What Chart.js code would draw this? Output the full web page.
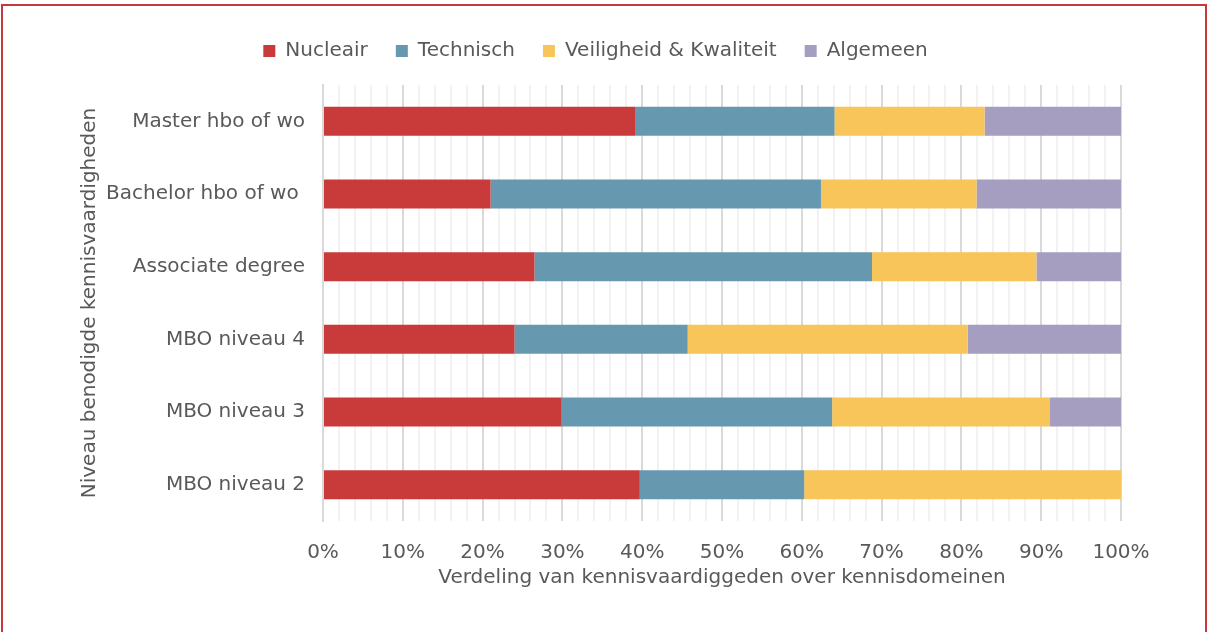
<!DOCTYPE html>
<html>
<head>
<meta charset="utf-8">
<script src="https://cdn.jsdelivr.net/npm/chart.js@4"></script>
<style>
  html, body { margin: 0; padding: 0; background: #fff; }
  #wrap { position: relative; width: 1212px; height: 632px; overflow: hidden; }
  #frame { position: absolute; left: 1px; top: 4px; width: 1206px; height: 640px; border: 2px solid #c8393b; box-sizing: border-box; }
  canvas { position: absolute; left: 0; top: 0; }
</style>
</head>
<body>
<div id="wrap">
  <div id="frame"></div>
  <canvas id="chart" width="1212" height="632"></canvas>
</div>
<script>
// niveaus (van boven naar beneden)
const niveaus = ["Master hbo of wo", "Bachelor hbo of wo ", "Associate degree", "MBO niveau 4", "MBO niveau 3", "MBO niveau 2"];

// aandeel per kennisdomein, in procenten
const nucleair    = [39.1, 21.0, 26.5, 24.0, 29.9, 39.7];
const technisch   = [25.0, 41.4, 42.3, 21.7, 33.9, 20.6];
const veiligheid  = [18.8, 19.5, 20.6, 35.1, 27.3, 39.7];
const algemeen    = [17.1, 18.1, 10.6, 19.2,  8.9,  0.0];

const xTicks = [0, 10, 20, 30, 40, 50, 60, 70, 80, 90, 100];

const font = "'DejaVu Sans', sans-serif";
const grey = "#595959";

Chart.defaults.font.family = font;
Chart.defaults.font.size = 20;
Chart.defaults.color = grey;

const isMajor = c => c.tick && c.tick.value % 10 === 0;

new Chart(document.getElementById("chart"), {
	type: 'bar',
	data: {
		labels: niveaus,
		datasets: [
			{ label: "Nucleair", data: nucleair, backgroundColor: "#c93b3b", xAxisID: 'x', yAxisID: 'y' },
			{ label: "Technisch", data: technisch, backgroundColor: "#6698b0", xAxisID: 'x', yAxisID: 'y' },
			{ label: "Veiligheid & Kwaliteit", data: veiligheid, backgroundColor: "#f7c55a", xAxisID: 'x', yAxisID: 'y' },
			{ label: "Algemeen", data: algemeen, backgroundColor: "#a59ec1", xAxisID: 'x', yAxisID: 'y' }
		]
	},
	options: {
		indexAxis: 'y',
		responsive: false,
		animation: false,
		barPercentage: 0.4,
		categoryPercentage: 1,
		layout: { padding: { left: 70, right: 91, top: 13, bottom: 42 } },
		plugins: {
			tooltip: { enabled: false },
			legend: {
				position: 'top',
				labels: {
					color: grey,
					boxWidth: 12,
					boxHeight: 12,
					padding: 28
				}
			}
		},
		scales: {
			x: {
				stacked: true,
				min: 0,
				max: 100,
				afterFit: s => { s.height = 69; },
				ticks: {
					stepSize: 2,
					autoSkip: false,
					maxRotation: 0,
					padding: 20,
					callback: v => xTicks.includes(v) ? v + '%' : ''
				},
				grid: {
					drawTicks: false,
					color: c => isMajor(c) ? '#d9d9d9' : '#f2f2f2',
					lineWidth: 2
				},
				border: { display: false },
				title: {
					display: true,
					text: "Verdeling van kennisvaardiggeden over kennisdomeinen",
					color: grey,
					padding: { top: 4, bottom: 0 }
				}
			},
			// lege as bovenaan, alleen als ruimte tussen legenda en grafiek
			spacer: {
				type: 'linear',
				axis: 'x',
				position: 'top',
				afterFit: s => { s.height = 14; },
				ticks: { display: false },
				grid: { display: false, drawTicks: false },
				border: { display: false }
			},
			y: {
				stacked: true,
				afterFit: s => { s.width = 253; },
				ticks: { padding: 18 },
				grid: { display: false, drawTicks: false },
				border: { display: true, color: '#d9d9d9', width: 2 },
				title: {
					display: true,
					text: "Niveau benodigde kennisvaardigheden",
					color: grey,
					padding: { top: 8, bottom: 0 }
				}
			}
		}
	}
});
</script>
</body>
</html>
